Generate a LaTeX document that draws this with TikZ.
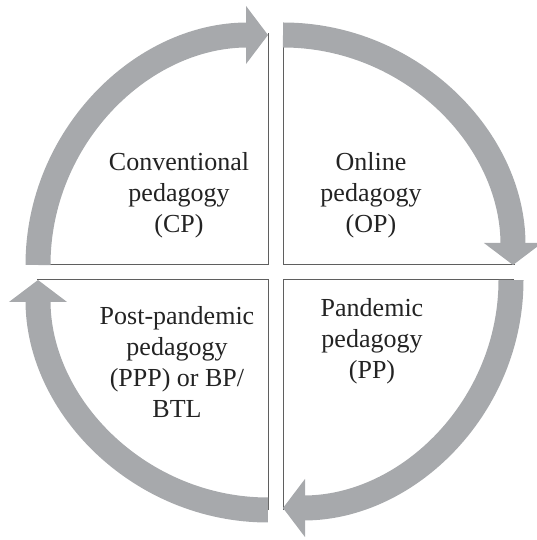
\documentclass[tikz,border=0pt]{standalone}
\usepackage{fontspec}
\setmainfont{Liberation Serif}
\usetikzlibrary{arrows.meta}
\definecolor{arrowgray}{RGB}{167,169,172}
\definecolor{linegray}{RGB}{95,95,95}
\definecolor{txt}{RGB}{35,35,35}
\begin{document}
\begin{tikzpicture}[x=1pt,y=1pt,
  cyclearrow/.style={draw=arrowgray, line width=25pt, -{Triangle[length=22pt,width=57pt]}},
  divider/.style={draw=linegray, line width=1pt},
  quadlabel/.style={font=\fontsize{26}{31}\selectfont, align=center, text=txt, inner sep=0pt}]
\useasboundingbox (0,0) rectangle (537,540);
% corners of the four quadrants
\coordinate (cTL) at (268,275);
\coordinate (cTR) at (283,275);
\coordinate (cBR) at (283,260);
\coordinate (cBL) at (268,260);
% free ends of the dividers
\coordinate (tlW) at (37,275);
\coordinate (tlN) at (268,507);
\coordinate (trN) at (283,515);
\coordinate (trE) at (515,275);
\coordinate (brE) at (514,260);
\coordinate (brS) at (283,30);
\coordinate (blW) at (37,260);
\coordinate (blS) at (268,30);
% dividers
\draw[divider] (tlW) -- (cTL) -- (tlN);
\draw[divider] (trN) -- (cTR) -- (trE);
\draw[divider] (brE) -- (cBR) -- (brS);
\draw[divider] (blW) -- (cBL) -- (blS);
% cycle arrows
\draw[cyclearrow] ([xshift=-230pt]cTL) arc[start angle=180, end angle=90, radius=230];
\draw[cyclearrow] ([yshift=230pt]cTR) arc[start angle=90, end angle=0, radius=230];
\draw[cyclearrow] ([xshift=228pt]cBR) arc[start angle=0, end angle=-90, radius=228];
\draw[cyclearrow] ([yshift=-230pt]cBL) arc[start angle=-90, end angle=-180, radius=230];
% labels
\node[quadlabel] (cp) at (179,345) {Conventional\\pedagogy\\(CP)};
\node[quadlabel] (op) at (371,345) {Online\\pedagogy\\(OP)};
\node[quadlabel] (ppp) at (177,178) {Post-pandemic\\pedagogy\\(PPP) or BP/\\BTL};
\node[quadlabel] (pp) at (372,199) {Pandemic\\pedagogy\\(PP)};
\end{tikzpicture}
\end{document}
